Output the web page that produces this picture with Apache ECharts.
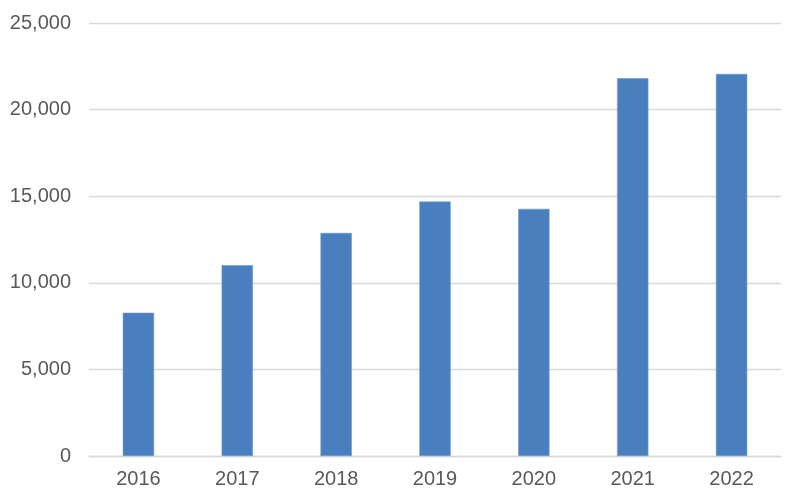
<!DOCTYPE html>
<html>
<head>
<meta charset="utf-8">
<script src="https://cdn.jsdelivr.net/npm/echarts@6/dist/echarts.min.js"></script>
<style>
  html, body { margin: 0; padding: 0; background: #fff; }
  #chart { width: 800px; height: 500px; }
</style>
</head>
<body>
<div id="chart"></div>
<script>
const years = ['2016', '2017', '2018', '2019', '2020', '2021', '2022'];
const values = [8270, 11020, 12880, 14690, 14270, 21810, 22060];
const yTicks = { min: 0, max: 25000, interval: 5000 };

const chart = echarts.init(document.getElementById('chart'));
chart.setOption({
  animation: false,
  grid: { left: 89, right: 19, top: 23, bottom: 44, containLabel: false },
  xAxis: {
    type: 'category',
    data: years,
    axisLine: { lineStyle: { color: '#d9d9d9', width: 1.3 } },
    axisTick: { show: false },
    axisLabel: { color: '#595959', fontSize: 20, fontFamily: 'Liberation Sans', margin: 13 }
  },
  yAxis: {
    type: 'value',
    min: yTicks.min,
    max: yTicks.max,
    interval: yTicks.interval,
    axisLine: { show: false },
    axisTick: { show: false },
    splitLine: { lineStyle: { color: '#d9d9d9', width: 1.3 } },
    axisLabel: {
      color: '#595959', fontSize: 20, fontFamily: 'Liberation Sans', margin: 18,
      formatter: v => v.toLocaleString('en-US')
    }
  },
  series: [{
    type: 'bar',
    data: values,
    barWidth: '31.7%',
    itemStyle: { color: '#4a7fbf', borderColor: '#6f98cc', borderWidth: 0.6 }
  }]
});
</script>
</body>
</html>
